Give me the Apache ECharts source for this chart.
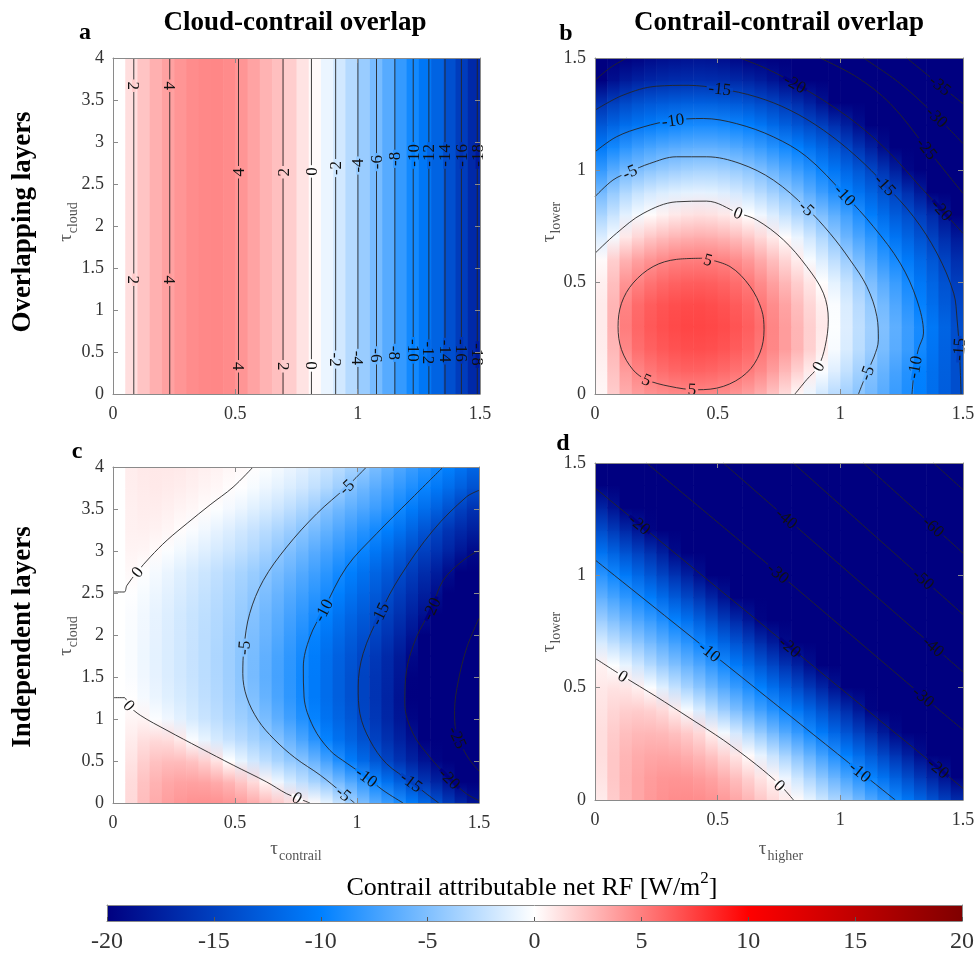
<!DOCTYPE html>
<html><head><meta charset="utf-8">
<script src="https://cdn.jsdelivr.net/npm/echarts@6.0.0/dist/echarts.min.js"></script>
<style>html,body{margin:0;padding:0;background:#fff}#chart{width:976px;height:960px}</style>
</head><body><div id="chart"></div>
<script>
// ---------- DATA ----------
const tauX = [0,0.05,0.1,0.15,0.2,0.25,0.3,0.35,0.4,0.45,0.5,0.55,0.6,0.65,0.7,0.75,0.8,0.85,0.9,0.95,1,1.05,1.1,1.15,1.2,1.25,1.3,1.35,1.4,1.45,1.5];
const rowsLower = [0,0.1,0.2,0.3,0.4,0.5,0.6,0.7,0.8,0.9,1,1.1,1.2,1.3,1.4,1.5];
const rowsCloud = [0,0.25,0.5,0.75,1,1.25,1.5,1.75,2,2.25,2.5,2.75,3,3.25,3.5,3.75,4];
const xTicks = [0,0.5,1,1.5];
const yTicksCloud = [0,0.5,1,1.5,2,2.5,3,3.5,4];
const yTicksLower = [0,0.5,1,1.5];
const cbTicks = [-20,-15,-10,-5,0,5,10,15,20];

// panel a: RF depends on tau_contrail only
const rfA = [0,1.3,2.3,3.1,3.7,4.15,4.5,4.65,4.7,4.55,4.15,3.6,3.0,2.5,1.95,1.1,0.2,-0.8,-1.8,-2.9,-4.0,-5.3,-6.6,-7.95,-9.3,-10.7,-12.3,-13.8,-15.3,-16.8];

// panel b: rows = tau_lower, columns = tau_higher
const rfB = [
[0.3,2.0,3.2,3.9,4.3,4.5,4.65,4.7,4.7,4.65,4.5,4.2,3.8,3.2,2.4,1.4,0.3,-0.7,-1.8,-2.8,-3.7,-4.6,-5.5,-6.6,-7.8,-8.9,-10.1,-11.4,-12.7,-13.9],
[0.5,2.4,3.9,4.8,5.3,5.7,5.95,6.1,6.1,6.0,5.8,5.5,5.15,4.6,3.8,2.8,1.8,0.8,-0.2,-1.3,-2.4,-3.6,-4.8,-6.0,-7.3,-8.6,-9.95,-11.3,-12.6,-13.9],
[0.7,2.8,4.7,5.7,6.2,6.55,6.8,6.95,6.97,6.9,6.7,6.4,5.95,5.35,4.7,3.9,2.95,1.85,0.75,-0.3,-1.5,-2.7,-3.9,-5.2,-6.5,-7.8,-9.3,-10.9,-12.4,-13.9],
[0.8,3.0,5.1,6.0,6.55,6.9,7.15,7.28,7.3,7.22,7.05,6.75,6.3,5.7,4.8,3.9,2.9,1.9,0.9,-0.1,-1.3,-2.5,-3.7,-4.95,-6.3,-7.7,-9.1,-10.6,-12.2,-13.9],
[0.8,2.9,4.85,5.8,6.35,6.7,6.95,7.05,7.08,7.0,6.8,6.45,5.95,5.3,4.5,3.6,2.6,1.6,0.65,-0.2,-1.5,-2.8,-4.1,-5.45,-6.9,-8.4,-9.9,-11.5,-13.0,-14.5],
[0.6,2.5,4.2,4.9,5.45,5.85,6.1,6.28,6.33,6.25,6.05,5.7,5.2,4.5,3.7,2.8,1.9,1.0,0.05,-1.05,-2.3,-3.7,-5.1,-6.5,-7.8,-9.2,-10.7,-12.2,-13.7,-15.2],
[0.2,1.9,3.0,3.7,4.2,4.6,4.9,5.03,5.06,5.02,4.85,4.5,4.0,3.3,2.5,1.6,0.7,-0.3,-1.4,-2.6,-3.9,-5.3,-6.7,-8.1,-9.2,-10.5,-11.9,-13.3,-14.8,-16.4],
[-1.4,-0.4,0.9,1.6,2.2,2.6,2.9,3.1,3.2,3.15,2.95,2.6,2.1,1.5,0.8,0.1,-0.8,-1.9,-3.1,-4.4,-5.8,-7.1,-8.3,-9.6,-10.9,-12.2,-13.6,-14.95,-16.5,-18.05],
[-3.4,-2.2,-1.1,-0.4,0.1,0.5,0.85,1.1,1.2,1.15,0.9,0.5,0.0,-0.6,-1.4,-2.3,-3.2,-4.1,-5.1,-6.3,-7.5,-8.8,-10.2,-11.6,-12.9,-14.0,-15.2,-16.8,-18.6,-20.6],
[-5.5,-4.2,-3.1,-2.3,-1.8,-1.45,-1.2,-1.05,-1.0,-1.05,-1.3,-1.7,-2.2,-2.9,-3.7,-4.5,-5.3,-6.5,-7.7,-8.8,-9.85,-11.0,-12.3,-13.6,-14.8,-16.3,-18.0,-20.1,-21.8,-23.4],
[-8.0,-6.6,-5.6,-5.1,-4.6,-4.2,-3.9,-3.65,-3.5,-3.5,-3.7,-4.05,-4.5,-5.1,-5.9,-6.8,-7.7,-8.6,-9.6,-10.8,-12.0,-13.2,-14.5,-15.9,-17.6,-19.5,-21.2,-22.8,-24.3,-25.9],
[-10.5,-9.3,-8.4,-7.7,-7.2,-6.8,-6.5,-6.3,-6.2,-6.2,-6.4,-6.8,-7.3,-7.9,-8.6,-9.3,-10.0,-11.0,-12.1,-13.3,-14.6,-16.0,-17.5,-19.1,-20.8,-22.3,-23.6,-25.0,-26.6,-28.2],
[-13.2,-12.2,-11.4,-10.8,-10.3,-9.8,-9.5,-9.25,-9.1,-9.1,-9.3,-9.6,-10.05,-10.8,-11.7,-12.6,-13.5,-14.3,-15.1,-16.3,-17.6,-19.0,-20.6,-21.9,-23.1,-24.4,-25.6,-27.1,-28.9,-30.7],
[-16.2,-15.1,-14.3,-13.7,-13.25,-12.95,-12.75,-12.6,-12.55,-12.6,-12.8,-13.1,-13.6,-14.2,-14.8,-15.6,-16.5,-17.5,-18.7,-20.05,-21.2,-22.3,-23.3,-24.2,-25.0,-26.8,-28.8,-30.8,-32.5,-34.0],
[-20.0,-18.8,-18.0,-17.4,-17.0,-16.75,-16.55,-16.45,-16.4,-16.45,-16.6,-16.9,-17.3,-17.8,-18.5,-19.3,-20.2,-21.3,-22.4,-23.4,-24.3,-24.8,-26.2,-27.7,-29.2,-30.7,-32.3,-33.9,-35.5,-37.0],
[-23.5,-22.0,-20.7,-19.8,-19.3,-19.0,-18.8,-18.65,-18.6,-18.7,-19.0,-19.45,-20.1,-20.9,-21.8,-22.5,-23.3,-24.0,-24.7,-25.8,-27.1,-28.6,-30.2,-31.8,-33.2,-34.4,-35.8,-37.4,-39.0,-40.5]
];

// panel c: rows = tau_cloud, columns = tau_contrail
const rfC = [
[0,1.5,2.6,3.3,3.8,4.1,4.3,4.35,4.3,4.1,3.8,3.3,2.7,2.1,1.45,0.8,0.15,-0.9,-2.2,-3.6,-5.1,-6.6,-7.8,-9.0,-10.3,-11.9,-13.7,-15.4,-17.0,-18.5],
[0,1.4,2.4,3.0,3.4,3.6,3.65,3.55,3.3,2.85,2.2,1.4,0.45,-0.6,-1.6,-2.5,-3.4,-4.3,-5.4,-6.7,-8.1,-9.6,-11.1,-12.6,-14.2,-15.8,-17.3,-18.7,-20.1,-21.5],
[0,1.1,1.9,2.4,2.6,2.6,2.35,1.85,1.1,0.0,-0.9,-1.8,-2.6,-3.4,-4.2,-4.7,-5.9,-7.3,-8.8,-10.3,-11.8,-13.2,-14.7,-16.0,-17.3,-18.5,-19.7,-21.1,-22.7,-24.5],
[0,0.75,1.25,1.45,1.35,0.85,-0.2,-0.9,-1.6,-2.2,-2.8,-3.5,-4.2,-4.8,-5.9,-7.1,-8.4,-9.8,-11.1,-12.3,-13.6,-14.9,-16.2,-17.4,-18.7,-20.0,-21.4,-22.9,-24.6,-26.0],
[0,0.4,0.45,-0.15,-0.6,-1.1,-1.6,-2.1,-2.6,-3.2,-3.8,-4.4,-5.2,-6.3,-7.5,-8.7,-9.8,-11.0,-12.1,-13.2,-14.5,-15.7,-17.0,-18.3,-19.6,-20.9,-22.1,-23.4,-24.95,-26.3],
[0,0.05,-0.4,-0.8,-1.2,-1.6,-2.0,-2.5,-3.0,-3.6,-4.3,-5.0,-6.0,-7.1,-8.2,-9.3,-10.4,-11.5,-12.6,-13.7,-14.8,-16.0,-17.2,-18.5,-20.1,-21.4,-22.6,-23.7,-24.9,-26.0],
[0,-0.2,-0.6,-1.0,-1.4,-1.8,-2.2,-2.65,-3.15,-3.75,-4.5,-5.35,-6.3,-7.3,-8.3,-9.4,-10.4,-11.5,-12.6,-13.7,-14.8,-15.9,-17.0,-18.3,-19.95,-21.4,-22.6,-23.6,-24.6,-25.6],
[0,-0.25,-0.65,-1.05,-1.45,-1.85,-2.25,-2.7,-3.2,-3.8,-4.5,-5.3,-6.2,-7.2,-8.2,-9.2,-10.2,-11.3,-12.4,-13.4,-14.5,-15.6,-16.8,-18.0,-19.4,-20.7,-21.9,-22.9,-24.0,-25.2],
[0,-0.25,-0.6,-1.0,-1.4,-1.8,-2.2,-2.65,-3.1,-3.7,-4.35,-5.1,-5.9,-6.8,-7.8,-8.8,-9.8,-10.8,-11.8,-12.8,-13.8,-14.8,-15.9,-17.1,-18.4,-20.1,-21.4,-22.6,-23.6,-24.5],
[0,-0.2,-0.55,-0.95,-1.35,-1.75,-2.15,-2.55,-3.0,-3.5,-4.1,-4.8,-5.6,-6.4,-7.3,-8.2,-9.1,-9.95,-11.0,-12.0,-13.0,-14.0,-15.1,-16.2,-17.4,-18.7,-20.1,-21.4,-22.5,-23.5],
[0,-0.05,-0.35,-0.7,-1.1,-1.5,-1.9,-2.3,-2.75,-3.25,-3.8,-4.4,-5.1,-5.9,-6.7,-7.5,-8.3,-9.1,-10.0,-11.0,-12.0,-13.0,-14.1,-15.2,-16.4,-17.6,-18.9,-20.4,-21.8,-23.0],
[0,0.25,-0.05,-0.4,-0.8,-1.2,-1.6,-2.0,-2.45,-2.9,-3.4,-3.95,-4.55,-5.2,-5.9,-6.7,-7.5,-8.3,-9.2,-10.1,-11.1,-12.1,-13.1,-14.2,-15.3,-16.5,-17.7,-19.0,-20.4,-21.7],
[0,0.45,0.4,0.15,-0.15,-0.5,-0.85,-1.25,-1.65,-2.05,-2.5,-3.0,-3.6,-4.3,-5.0,-5.7,-6.5,-7.3,-8.1,-8.9,-9.7,-10.7,-11.7,-12.8,-13.9,-15.0,-16.1,-17.2,-18.3,-19.2],
[0,0.55,0.6,0.5,0.35,0.1,-0.2,-0.55,-0.95,-1.35,-1.8,-2.25,-2.75,-3.3,-3.9,-4.6,-5.3,-6.1,-6.9,-7.7,-8.5,-9.3,-10.1,-11.0,-12.2,-13.4,-14.7,-15.9,-16.8,-17.6],
[0,0.6,0.7,0.7,0.6,0.45,0.3,0.12,-0.1,-0.45,-0.8,-1.2,-1.6,-2.05,-2.6,-3.2,-3.9,-4.85,-5.6,-6.3,-7.0,-7.7,-8.5,-9.4,-10.4,-11.4,-12.5,-13.7,-15.0,-16.1],
[0,0.65,0.8,0.85,0.8,0.7,0.6,0.45,0.3,0.12,-0.05,-0.35,-0.7,-1.05,-1.45,-1.9,-2.45,-3.1,-3.85,-4.9,-5.7,-6.5,-7.3,-8.1,-8.9,-9.7,-10.6,-11.6,-12.6,-13.7],
[0,0.7,0.85,0.9,0.9,0.85,0.75,0.62,0.5,0.37,0.22,0.07,-0.1,-0.4,-0.75,-1.15,-1.6,-2.1,-2.7,-3.4,-4.2,-5.2,-6.1,-6.9,-7.7,-8.5,-9.3,-9.95,-10.9,-12.0]
];

// panel d: rows = tau_lower, columns = tau_higher
const rfD = [
[0.8,2.0,2.9,3.5,4.0,4.3,4.5,4.55,4.5,4.3,4.0,3.5,2.9,2.2,1.5,0.8,0.2,-0.85,-2.0,-3.2,-4.4,-5.6,-6.9,-8.1,-9.4,-10.7,-12.1,-13.6,-15.1,-16.6],
[1.1,2.2,3.0,3.5,3.9,4.1,4.15,4.1,3.9,3.6,3.1,2.5,1.8,1.05,0.45,-0.75,-2.0,-3.3,-4.6,-5.9,-7.2,-8.5,-9.75,-11.1,-12.6,-14.1,-15.7,-17.2,-18.6,-20.1],
[1.3,2.2,2.85,3.25,3.45,3.5,3.4,3.15,2.8,2.3,1.7,1.0,0.15,-0.95,-2.2,-3.5,-4.8,-6.1,-7.5,-8.8,-10.1,-11.5,-13.0,-14.5,-16.0,-17.5,-19.0,-20.5,-22.0,-23.6],
[1.3,2.0,2.5,2.75,2.8,2.7,2.45,2.05,1.5,0.6,-0.5,-1.7,-2.95,-4.2,-5.5,-6.8,-8.0,-9.25,-10.5,-12.0,-13.5,-15.0,-16.5,-18.0,-19.4,-20.8,-22.3,-24.0,-25.8,-27.7],
[1.1,1.6,1.9,1.95,1.8,1.45,0.8,-0.3,-1.5,-2.7,-3.9,-5.1,-6.3,-7.5,-8.6,-9.6,-10.8,-12.1,-13.6,-15.1,-16.6,-18.1,-19.7,-21.3,-23.0,-24.7,-26.4,-28.1,-29.9,-31.6],
[0.9,1.1,1.0,0.6,-0.15,-1.2,-2.3,-3.4,-4.5,-5.6,-6.7,-7.8,-8.9,-9.95,-11.3,-12.7,-14.2,-15.7,-17.1,-18.6,-20.1,-21.8,-23.5,-25.2,-26.8,-28.5,-30.2,-31.9,-33.7,-35.5],
[0.5,-0.1,-0.9,-1.9,-2.95,-4.0,-5.0,-6.0,-7.0,-8.1,-9.2,-10.4,-11.8,-13.2,-14.6,-16.1,-17.5,-18.9,-20.4,-22.1,-23.8,-25.4,-27.1,-28.8,-30.4,-32.2,-34.0,-35.8,-37.6,-39.4],
[-1.6,-2.5,-3.4,-4.4,-5.4,-6.4,-7.4,-8.4,-9.5,-10.7,-12.1,-13.5,-15.0,-16.5,-17.9,-19.3,-20.8,-22.4,-24.0,-25.6,-27.3,-29.0,-30.7,-32.5,-34.3,-36.0,-37.8,-39.6,-41.3,-43.1],
[-3.9,-4.9,-5.9,-6.9,-7.8,-8.8,-9.85,-11.1,-12.5,-13.9,-15.4,-16.8,-18.3,-19.7,-21.2,-22.8,-24.4,-26.0,-27.7,-29.3,-31.0,-32.8,-34.6,-36.3,-38.0,-39.7,-41.5,-43.3,-45.1,-47.0],
[-6.2,-7.2,-8.2,-9.2,-10.2,-11.6,-13.0,-14.4,-15.8,-17.2,-18.6,-20.0,-21.6,-23.2,-24.8,-26.4,-28.0,-29.6,-31.3,-33.0,-34.7,-36.4,-38.2,-39.9,-41.7,-43.5,-45.3,-47.2,-49.1,-51.0],
[-8.4,-9.4,-10.5,-11.9,-13.3,-14.7,-16.1,-17.5,-18.9,-20.4,-22.0,-23.6,-25.2,-26.8,-28.3,-29.9,-31.5,-33.2,-34.9,-36.6,-38.4,-40.1,-41.9,-43.7,-45.5,-47.4,-49.2,-51.1,-53.0,-54.9],
[-11.0,-12.3,-13.6,-14.9,-16.2,-17.6,-19.2,-20.8,-22.4,-24.0,-25.5,-27.0,-28.6,-30.2,-31.9,-33.6,-35.3,-37.0,-38.6,-40.3,-42.0,-43.8,-45.6,-47.4,-49.3,-51.2,-53.1,-55.0,-56.9,-58.8],
[-14.1,-15.5,-16.9,-18.3,-19.7,-21.2,-22.8,-24.5,-26.1,-27.7,-29.3,-31.0,-32.6,-34.3,-36.0,-37.6,-39.3,-41.1,-42.9,-44.7,-46.5,-48.3,-50.2,-52.1,-54.0,-55.9,-57.8,-59.7,-61.6,-63.5],
[-17.2,-18.6,-20.0,-21.5,-23.0,-24.6,-26.2,-27.8,-29.5,-31.2,-32.9,-34.6,-36.3,-38.0,-39.7,-41.4,-43.2,-45.0,-46.8,-48.6,-50.4,-52.2,-54.1,-56.0,-57.9,-59.8,-61.7,-63.6,-65.5,-67.4],
[-20.3,-21.8,-23.3,-24.8,-26.4,-28.0,-29.6,-31.3,-33.0,-34.7,-36.4,-38.1,-39.8,-41.5,-43.3,-45.1,-46.9,-48.7,-50.5,-52.3,-54.1,-56.0,-57.9,-59.8,-61.7,-63.6,-65.5,-67.4,-69.3,-71.2],
[-23.6,-25.1,-26.7,-28.3,-29.9,-31.5,-33.1,-34.8,-36.5,-38.2,-39.9,-41.6,-43.3,-45.0,-46.8,-48.6,-50.4,-52.2,-54.0,-55.8,-57.7,-59.6,-61.5,-63.4,-65.3,-67.2,-69.1,-71.0,-72.9,-74.8]
];

// contour lines [level, points]
const contourA = [[2,0.085],[4,0.232],[4,0.513],[2,0.695],[0,0.811],[-2,0.910],[-4,1.001],[-6,1.077],[-8,1.152],[-10,1.227],[-12,1.291],[-14,1.357],[-16,1.424],[-18,1.489]];
const contourB = [
[5,[[0.441,0.606],[0.550,0.569],[0.632,0.480],[0.679,0.376],[0.689,0.287],[0.672,0.183],[0.618,0.094],[0.523,0.034],[0.414,0.019],[0.305,0.034],[0.210,0.064],[0.155,0.108],[0.108,0.198],[0.094,0.301],[0.108,0.405],[0.155,0.495],[0.237,0.569],[0.332,0.601],[0.441,0.606]]],
[0,[[0,0.628],[0.087,0.717],[0.196,0.806],[0.332,0.858],[0.455,0.861],[0.584,0.808],[0.659,0.777],[0.768,0.688],[0.863,0.569],[0.931,0.450],[0.951,0.331],[0.938,0.212],[0.910,0.123],[0.863,0.064],[0.815,0]]],
[-5,[[0,0.881],[0.073,0.955],[0.142,0.992],[0.223,1.029],[0.332,1.059],[0.455,1.059],[0.591,1.029],[0.727,0.955],[0.863,0.829],[0.958,0.717],[1.040,0.598],[1.108,0.480],[1.149,0.346],[1.155,0.242],[1.137,0.165],[1.108,0.094],[1.074,0]]],
[-10,[[0,1.081],[0.087,1.148],[0.196,1.192],[0.318,1.222],[0.441,1.230],[0.577,1.207],[0.727,1.148],[0.863,1.059],[1.019,0.888],[1.135,0.747],[1.244,0.584],[1.312,0.420],[1.339,0.272],[1.318,0.2],[1.303,0.12],[1.292,0]]],
[-15,[[0,1.267],[0.114,1.334],[0.250,1.374],[0.380,1.378],[0.509,1.363],[0.659,1.326],[0.795,1.267],[0.931,1.178],[1.067,1.059],[1.183,0.933],[1.298,0.792],[1.394,0.628],[1.462,0.450],[1.476,0.331],[1.486,0.183],[1.492,0]]],
[-20,[[0,1.40],[0.06,1.455],[0.129,1.5]]],
[-20,[[0.591,1.5],[0.700,1.452],[0.815,1.386],[0.931,1.311],[1.067,1.207],[1.203,1.074],[1.326,0.925],[1.414,0.821],[1.5,0.717]]],
[-25,[[0.917,1.5],[1.067,1.415],[1.203,1.297],[1.353,1.096],[1.434,0.985],[1.5,0.896]]],
[-30,[[1.094,1.5],[1.244,1.386],[1.394,1.237],[1.5,1.118]]],
[-35,[[1.271,1.5],[1.407,1.378],[1.5,1.296]]]
];
const contourC = [
[0,[[0,2.512],[0.046,2.512],[0.057,2.59],[0.099,2.75],[0.153,2.93],[0.222,3.13],[0.304,3.33],[0.398,3.55],[0.492,3.76],[0.574,4.0]]],
[0,[[0,1.254],[0.046,1.254],[0.064,1.163],[0.112,1.044],[0.221,0.865],[0.357,0.655],[0.493,0.45],[0.630,0.25],[0.712,0.11],[0.76,0.054],[0.807,0]]],
[-5,[[1.039,4.0],[0.957,3.762],[0.835,3.444],[0.712,3.048],[0.616,2.651],[0.560,2.254],[0.537,1.857],[0.532,1.540],[0.548,1.262],[0.595,0.984],[0.660,0.760],[0.745,0.540],[0.850,0.330],[0.940,0.120],[0.990,0]]],
[-10,[[1.353,4.0],[1.216,3.603],[1.080,3.206],[0.957,2.809],[0.862,2.294],[0.807,1.976],[0.780,1.619],[0.783,1.262],[0.821,0.905],[0.889,0.627],[0.96,0.47],[1.039,0.310],[1.107,0.151],[1.189,0]]],
[-15,[[1.5,3.722],[1.448,3.643],[1.312,3.246],[1.175,2.690],[1.094,2.253],[1.025,1.778],[1.005,1.381],[1.012,1.063],[1.053,0.746],[1.121,0.468],[1.223,0.250],[1.28,0.12],[1.335,0]]],
[-20,[[1.5,3.008],[1.435,2.889],[1.353,2.651],[1.305,2.313],[1.244,1.976],[1.203,1.579],[1.196,1.183],[1.230,0.825],[1.298,0.548],[1.380,0.290],[1.448,0.111],[1.5,0.03]]],
[-25,[[1.5,2.2],[1.45,1.85],[1.415,1.45],[1.40,1.10],[1.405,0.85],[1.425,0.70],[1.46,0.52],[1.5,0.38]]]
];
const contourD = [
[0,[[0,0.631],[0.114,0.551],[0.250,0.460],[0.387,0.364],[0.523,0.267],[0.659,0.156],[0.754,0.067],[0.809,0]]],
[-10,[[0,1.069],[1.224,0]]],
[-20,[[0,1.389],[1.5,0.052]]],
[-30,[[0.210,1.5],[0.747,1.010],[1.339,0.460],[1.5,0.312]]],
[-40,[[0.523,1.5],[0.781,1.254],[1.38,0.684],[1.5,0.57]]],
[-50,[[0.808,1.5],[1.5,0.826]]],
[-60,[[1.094,1.5],[1.5,1.099]]],
[-70,[[1.38,1.5],[1.5,1.381]]]
];

// contour labels [text, x, y, rotation in degrees]
const labelsA = [
['2',0.085,3.67,-90],['4',0.232,3.67,-90],['2',0.085,1.36,-90],['4',0.232,1.36,-90],
['4',0.513,2.64,90],['2',0.695,2.64,90],['0',0.811,2.65,90],['-2',0.910,2.69,90],['-4',1.001,2.72,90],['-6',1.077,2.76,90],['-8',1.152,2.80,90],['-10',1.227,2.84,90],['-12',1.291,2.84,90],['-14',1.357,2.84,90],['-16',1.424,2.84,90],['-18',1.489,2.84,90],
['4',0.513,0.33,-90],['2',0.695,0.33,-90],['0',0.811,0.34,-90],['-2',0.910,0.41,-90],['-4',1.001,0.43,-90],['-6',1.077,0.46,-90],['-8',1.152,0.49,-90],['-10',1.227,0.52,-90],['-12',1.291,0.49,-90],['-14',1.357,0.51,-90],['-16',1.424,0.52,-90],['-18',1.489,0.47,-90]
];
const labelsB = [
['5',0.461,0.599,-15],['5',0.210,0.064,-24],['5',0.395,0.021,-3],
['0',0.584,0.808,-21],['0',0.910,0.123,61],
['-5',0.142,0.992,24],['-5',0.863,0.829,-43],['-5',1.108,0.094,70],
['-10',0.318,1.222,8],['-10',1.019,0.888,-46],['-10',1.303,0.12,80],
['-15',0.509,1.363,-6],['-15',1.183,0.933,-47],['-15',1.483,0.2,86],
['-20',0.815,1.386,-29],['-20',1.414,0.821,-48],
['-25',1.353,1.096,-51],['-30',1.394,1.237,-44],['-35',1.407,1.378,-39]
];
const labelsC = [
['0',0.099,2.75,51],['0',0.066,1.16,-48],['0',0.755,0.06,-30],
['-5',0.957,3.762,43],['-5',0.537,1.85,85],['-5',0.945,0.11,-39],
['-10',0.862,2.294,62],['-10',1.039,0.31,-37],
['-15',1.094,2.253,64],['-15',1.223,0.25,-37],
['-20',1.305,2.313,65],['-20',1.38,0.29,-45],
['-25',1.412,0.78,-65]
];
const labelsD = [
['0',0.114,0.551,-32],['0',0.752,0.065,-44],
['-10',0.468,0.660,-39],['-10',1.081,0.125,-39],
['-20',0.182,1.227,-40],['-20',0.795,0.681,-40],['-20',1.40,0.142,-40],
['-30',0.747,1.010,-40],['-30',1.339,0.460,-40],
['-40',0.781,1.254,-41],['-40',1.38,0.684,-41],
['-50',1.339,0.983,-42],['-60',1.38,1.217,-42]
];

// ---------- colour map (blue-white-red) ----------
const cmapStops = [[-20,[0,0,128]],[-10,[0,128,255]],[0,[255,255,255]],[10,[255,0,0]],[20,[128,0,0]]];
function cmap(v){
  if (v <= cmapStops[0][0]) { const c = cmapStops[0][1]; return 'rgb(' + c + ')'; }
  for (let k = 1; k < cmapStops.length; k++) {
    if (v <= cmapStops[k][0]) {
      const a = cmapStops[k-1], b = cmapStops[k];
      const t = (v - a[0]) / (b[0] - a[0]);
      const c = a[1].map((ch, n) => Math.round(ch + (b[1][n] - ch) * t));
      return 'rgb(' + c.join(',') + ')';
    }
  }
  const c = cmapStops[cmapStops.length-1][1]; return 'rgb(' + c + ')';
}

// ---------- layout ----------
const FF = "'Liberation Serif','Times New Roman',serif";
const panels = [
  {left:113, top:58,  width:367, height:336, yTicks:yTicksCloud},
  {left:595, top:58,  width:368, height:336, yTicks:yTicksLower},
  {left:113, top:467, width:366, height:336, yTicks:yTicksCloud},
  {left:595, top:463, width:368, height:337, yTicks:yTicksLower}
];
const AX = '#8a8a8a';
function valAxis(g, pos, ticks, showLabel, fs, margin){
  return {type:'value', gridIndex:g, position:pos, min:ticks[0], max:ticks[ticks.length-1],
    interval:ticks[1]-ticks[0], z:10,
    axisLine:{show:true, onZero:false, lineStyle:{color:AX, width:1}},
    axisTick:{show:true, inside:true, length:5, lineStyle:{color:AX, width:1}},
    axisLabel:{show:showLabel, fontFamily:FF, fontSize:fs||18, color:'#333', margin:margin||9},
    splitLine:{show:false}};
}
const grids = [], xAxes = [], yAxes = [];
panels.forEach((p, g) => {
  grids.push({left:p.left, top:p.top, width:p.width, height:p.height, containLabel:false, outerBoundsMode:'none'});
  xAxes.push(valAxis(g, 'bottom', xTicks, true, 18, 11));
  xAxes.push(valAxis(g, 'top', xTicks, false));
  yAxes.push(valAxis(g, 'left', p.yTicks, true, 18, 9));
  yAxes.push(valAxis(g, 'right', p.yTicks, false));
});
// colour bar grid (index 4)
grids.push({left:107, top:905, width:855, height:16, containLabel:false, outerBoundsMode:'none'});
const cbX = valAxis(4, 'bottom', cbTicks, true, 24, 9);
cbX.axisTick = {show:true, inside:true, length:4, lineStyle:{color:'#555'}};
xAxes.push(cbX);
const cbXt = valAxis(4, 'top', cbTicks, false); cbXt.axisTick = {show:false}; xAxes.push(cbXt);
const cbY = valAxis(4, 'left', [0,1], false); cbY.axisTick = {show:false};
const cbYr = valAxis(4, 'right', [0,1], false); cbYr.axisTick = {show:false};
yAxes.push(cbY, cbYr);

// ---------- helpers ----------
const mctx = document.createElement('canvas').getContext('2d');
function tw(t, size, weight){ mctx.font = (weight || 'normal') + ' ' + size + "px 'Liberation Serif'"; return mctx.measureText(t).width; }

// ---------- series ----------
function renderCell(params, api){
  const p0 = api.coord([api.value(0), api.value(1)]);
  const p1 = api.coord([api.value(2), api.value(3)]);
  return {type:'rect',
    shape:{x:p0[0], y:p1[1]-0.5, width:(p1[0]-p0[0])+0.6, height:(p0[1]-p1[1])+1},
    style:{fill:{type:'linear', x:0, y:1, x2:0, y2:0, global:false,
      colorStops:[{offset:0, color:cmap(api.value(4))},{offset:1, color:cmap(api.value(5))}]}}};
}
function cellSeries(g, data){
  return {type:'custom', xAxisIndex:2*g, yAxisIndex:2*g, renderItem:renderCell, data:data,
    clip:true, silent:true, z:1, animation:false};
}
function gridCells(rows, vals){
  const out = [];
  for (let j = 0; j < rows.length - 1; j++)
    for (let i = 0; i < tauX.length - 1; i++)
      out.push([tauX[i], rows[j], tauX[i+1], rows[j+1], vals[j][i], vals[j+1][i]]);
  return out;
}
const cellsA = rfA.map((v, i) => [tauX[i], yTicksCloud[0], tauX[i+1], yTicksCloud[yTicksCloud.length-1], v, v]);

function contourSeries(g, list, smooth){
  return list.map(c => ({type:'line', xAxisIndex:2*g, yAxisIndex:2*g, data:c[1], symbol:'none',
    smooth:smooth, lineStyle:{color:'#262626', width:0.9}, z:3, silent:true, animation:false, clip:true}));
}
const LFS = 17;
function labelSeries(g, list){
  return {type:'custom', xAxisIndex:2*g, yAxisIndex:2*g, z:4, silent:true, animation:false, clip:false,
    data:list.map(l => [l[1], l[2], l[3]]),
    renderItem:(params, api) => {
      const t = list[params.dataIndex][0];
      const p = api.coord([api.value(0), api.value(1)]);
      const w = tw(t, LFS) + 4, h = 3.5;
      return {type:'group', x:p[0], y:p[1], rotation:api.value(2) * Math.PI / 180, children:[
        {type:'rect', shape:{x:-w/2, y:-h/2, width:w, height:h}, style:{fill:cmap(parseFloat(t))}},
        {type:'text', style:{text:t, x:0, y:1, align:'center', verticalAlign:'middle',
          fontFamily:FF, fontSize:LFS, fill:'#111'}}
      ]};
    }};
}

const series = [];
series.push(cellSeries(0, cellsA));
series.push(cellSeries(1, gridCells(rowsLower, rfB)));
series.push(cellSeries(2, gridCells(rowsCloud, rfC)));
series.push(cellSeries(3, gridCells(rowsLower, rfD)));
series.push(...contourSeries(0, contourA.map(c => [c[0], [[c[1], yTicksCloud[0]], [c[1], yTicksCloud[yTicksCloud.length-1]]]]), false));
series.push(...contourSeries(1, contourB, 0.35));
series.push(...contourSeries(2, contourC, 0.35));
series.push(...contourSeries(3, contourD, 0.3));
series.push(labelSeries(0, labelsA), labelSeries(1, labelsB), labelSeries(2, labelsC), labelSeries(3, labelsD));
// colour bar
series.push({type:'custom', xAxisIndex:8, yAxisIndex:8, data:[[cbTicks[0], cbTicks[cbTicks.length-1]]], silent:true, animation:false, z:1,
  renderItem:(params, api) => {
    const p0 = api.coord([api.value(0), 0]), p1 = api.coord([api.value(1), 1]);
    const lo = cbTicks[0], hi = cbTicks[cbTicks.length-1];
    return {type:'rect', shape:{x:p0[0], y:p1[1], width:p1[0]-p0[0], height:p0[1]-p1[1]},
      style:{fill:{type:'linear', x:0, y:0, x2:1, y2:0, global:false,
        colorStops:cmapStops.map(s => ({offset:(s[0]-lo)/(hi-lo), color:cmap(s[0])}))}}};
  }});

// ---------- text (titles, names) ----------
function txt(t, x, y, size, opts){
  opts = opts || {};
  return {type:'text', x:x, y:y, silent:true, z:20, style:{text:t, fontFamily:FF, fontSize:size,
    fontWeight:opts.weight || 'normal', fill:opts.fill || '#000', textAlign:opts.align || 'center', textVerticalAlign:'middle'}};
}
function tauName(sub, cx, cy, rot){
  const w1 = tw('\u03c4', 19), w2 = tw(sub, 14), W = w1 + w2 + 1, x0 = -W / 2;
  return {type:'group', x:cx, y:cy, rotation:rot, silent:true, children:[
    txt('\u03c4', x0, 0, 19, {align:'left', fill:'#555'}),
    txt(sub, x0 + w1 + 1, 7, 14, {align:'left', fill:'#555'})
  ]};
}
function rotated(t, cx, cy, size, weight){
  return {type:'group', x:cx, y:cy, rotation:Math.PI/2, silent:true, children:[txt(t, 0, 0, size, {weight:weight})]};
}
const cbT1 = 'Contrail attributable net RF [W/m', cbT2 = '2', cbT3 = ']';
const w1 = tw(cbT1, 26), w2 = tw(cbT2, 17), w3 = tw(cbT3, 26);
const cbX0 = 532 - (w1 + w2 + w3) / 2;
const graphics = [
  txt('Cloud-contrail overlap', 295, 23, 27, {weight:'bold'}),
  txt('Contrail-contrail overlap', 779, 23, 27, {weight:'bold'}),
  txt('a', 85, 33, 24, {weight:'bold'}),
  txt('b', 566, 34, 24, {weight:'bold'}),
  txt('c', 77, 452, 24, {weight:'bold'}),
  txt('d', 563, 444, 24, {weight:'bold'}),
  rotated('Overlapping layers', 23, 222, 27, 'bold'),
  rotated('Independent layers', 23, 637, 27, 'bold'),
  tauName('cloud', 66, 222, Math.PI/2),
  tauName('cloud', 66, 636, Math.PI/2),
  tauName('lower', 549, 222, Math.PI/2),
  tauName('lower', 549, 632, Math.PI/2),
  tauName('contrail', 296, 849, 0),
  tauName('higher', 781, 849, 0),
  txt(cbT1, cbX0, 888, 26, {align:'left'}),
  txt(cbT2, cbX0 + w1, 879, 17, {align:'left'}),
  txt(cbT3, cbX0 + w1 + w2, 888, 26, {align:'left'})
];

const chart = echarts.init(document.getElementById('chart'), null, {renderer:'canvas', width:976, height:960});
chart.setOption({
  animation:false, backgroundColor:'#fff',
  textStyle:{fontFamily:FF},
  grid:grids, xAxis:xAxes, yAxis:yAxes, series:series, graphic:graphics
});
</script>
</body></html>
